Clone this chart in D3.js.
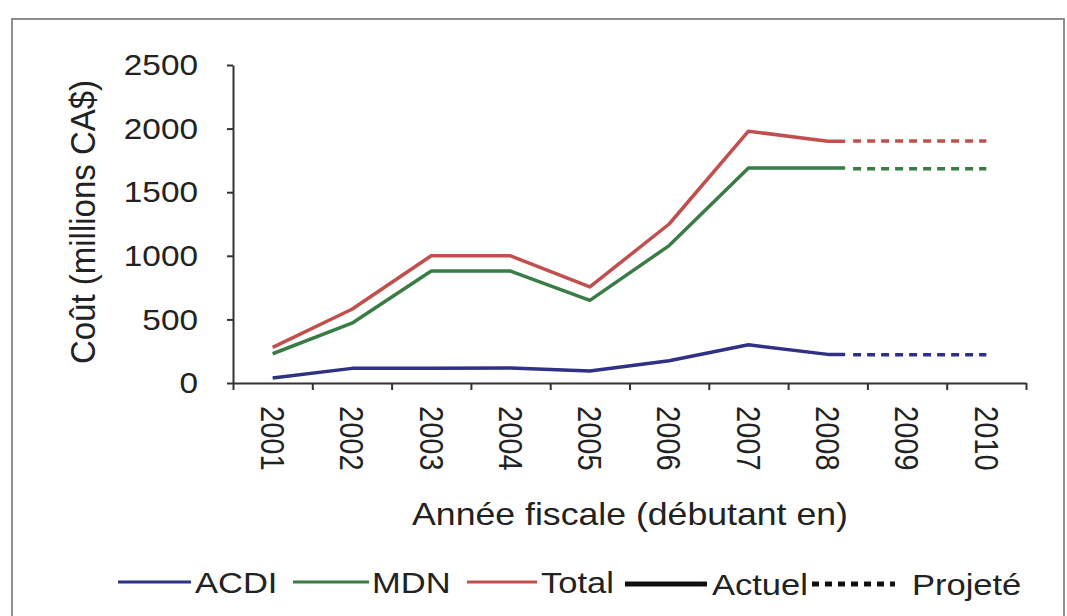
<!DOCTYPE html>
<html>
<head>
<meta charset="utf-8">
<script src="https://cdn.jsdelivr.net/npm/d3@7"></script>
<style>
  html, body { margin: 0; padding: 0; background: #fff; }
  svg { display: block; font-family: "Liberation Sans", Arial, sans-serif; }
</style>
</head>
<body>
<svg id="chart" width="1067" height="616"></svg>
<script>
// tick labels
var years = [2001, 2002, 2003, 2004, 2005, 2006, 2007, 2008, 2009, 2010];
var yTicks = [0, 500, 1000, 1500, 2000, 2500];

var actualYears = [2001, 2002, 2003, 2004, 2005, 2006, 2007, 2008, 2008.22];
var acdiActual  = [40, 115, 115, 118, 95, 175, 300, 225, 225];
var mdnActual   = [230, 470, 880, 880, 650, 1080, 1690, 1690, 1690];
var totalActual = [280, 580, 1000, 1000, 755, 1250, 1980, 1900, 1900];

// projected spending
var projYears     = [2008.32, 2010];
var acdiProjected  = [222, 222];
var mdnProjected   = [1685, 1685];
var totalProjected = [1903, 1903];

var series = [
  { name: 'ACDI',  color: '#2f3184', actual: acdiActual,  projected: acdiProjected },
  { name: 'MDN',   color: '#3a7c45', actual: mdnActual,   projected: mdnProjected },
  { name: 'Total', color: '#c0504d', actual: totalActual, projected: totalProjected }
];

var svg = d3.select('#chart');
var STRETCH = 1.15; // the original glyphs are a bit wider than Arial

// frame round the figure
svg.append('rect')
  .attr('x', 12).attr('y', 19)
  .attr('width', 1052).attr('height', 640)
  .attr('fill', 'none')
  .attr('stroke', '#8e8e8e')
  .attr('stroke-width', 2);

var x = d3.scaleLinear().domain([2000.5, 2010.5]).range([233, 1026]);
var y = d3.scaleLinear().domain([0, 2500]).range([383, 65]);

function label(g, px, py, str, size, rot, anchor, sx) {
  return g.append('text')
    .attr('transform', 'translate(' + px + ',' + py + ') scale(' + (sx || STRETCH) + ',1) rotate(' + rot + ')')
    .attr('text-anchor', anchor)
    .attr('dy', '0.35em')
    .attr('font-size', size)
    .attr('fill', '#222')
    .text(str);
}

// y axis
var yAxis = svg.append('g')
  .attr('transform', 'translate(' + x.range()[0] + ',0)')
  .call(d3.axisLeft(y).tickValues(yTicks).tickSize(6).tickSizeOuter(0).tickFormat(''));

yTicks.forEach(function(v) {
  label(svg, 198, y(v), String(v), 29, 0, 'end');
});

// x axis, ticks on the category boundaries
var bounds = d3.range(2000.5, 2011, 1);
var xAxis = svg.append('g')
  .attr('transform', 'translate(0,' + y(0) + ')')
  .call(d3.axisBottom(x).tickValues(bounds).tickSize(7).tickSizeOuter(0).tickFormat(''));

[yAxis, xAxis].forEach(function(a) {
  a.select('.domain').attr('stroke', '#333').attr('stroke-width', 2);
  a.selectAll('.tick line').attr('stroke', '#333').attr('stroke-width', 2);
});

years.forEach(function(yr) {
  label(svg, x(yr), 406, String(yr), 29, 90, 'start');
});

// axis titles
label(svg, 83, 222, 'Coût (millions CA$)', 33, -90, 'middle', 1.05);
label(svg, 630, 514, 'Année fiscale (débutant en)', 31, 0, 'middle');

// lines
var line = d3.line()
  .x(function(d) { return x(d[0]); })
  .y(function(d) { return y(d[1]); });

series.forEach(function(s) {
  svg.append('path')
    .datum(d3.zip(actualYears, s.actual))
    .attr('d', line)
    .attr('fill', 'none')
    .attr('stroke', s.color)
    .attr('stroke-width', 3.5)
    .attr('stroke-linejoin', 'round');

  svg.append('path')
    .datum(d3.zip(projYears, s.projected))
    .attr('d', line)
    .attr('fill', 'none')
    .attr('stroke', s.color)
    .attr('stroke-width', 3.5)
    .attr('stroke-dasharray', '8,6');
});

// legend
var legend = svg.append('g');
var items = [
  { x0: 118, x1: 191, tx: 195, ty: 582, color: series[0].color, w: 3, dash: null, text: 'ACDI' },
  { x0: 293, x1: 369, tx: 372, ty: 582, color: series[1].color, w: 3, dash: null, text: 'MDN' },
  { x0: 467, x1: 537, tx: 541, ty: 582, color: series[2].color, w: 3, dash: null, text: 'Total' },
  { x0: 625, x1: 707, tx: 712, ty: 584, color: '#111', w: 5, dash: null, text: 'Actuel' },
  { x0: 812, x1: 895, tx: 912, ty: 584, color: '#111', w: 5, dash: '7,6', text: 'Projeté' }
];
items.forEach(function(it) {
  legend.append('line')
    .attr('x1', it.x0).attr('x2', it.x1)
    .attr('y1', it.ty).attr('y2', it.ty)
    .attr('stroke', it.color)
    .attr('stroke-width', it.w)
    .attr('stroke-dasharray', it.dash);
  label(legend, it.tx, it.ty, it.text, 30, 0, 'start');
});
</script>
</body>
</html>
